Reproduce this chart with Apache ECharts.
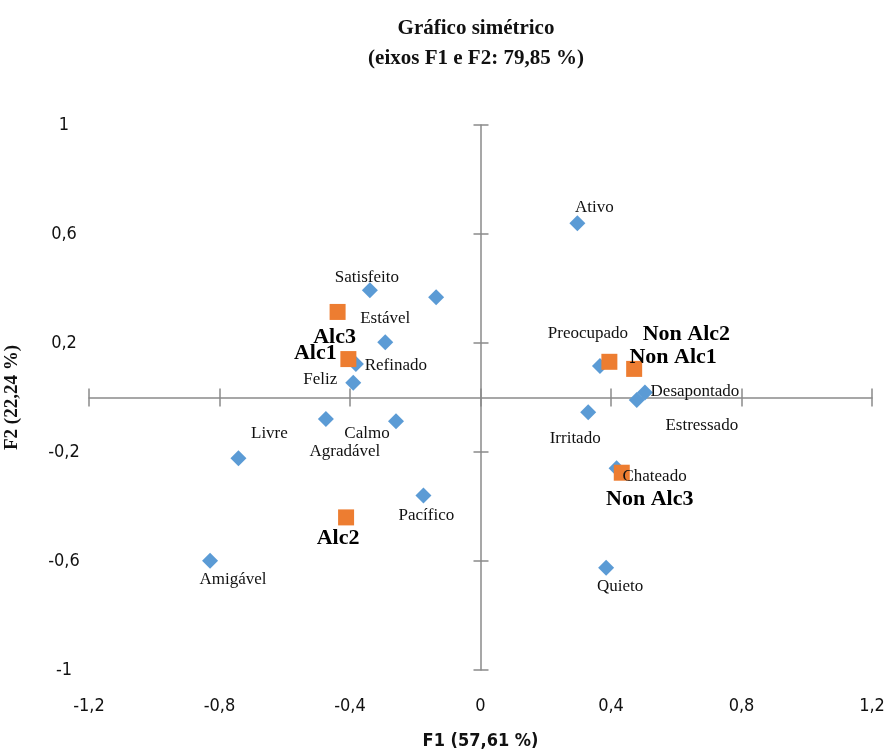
<!DOCTYPE html>
<html>
<head>
<meta charset="utf-8">
<script src="https://cdn.jsdelivr.net/npm/echarts@6/dist/echarts.min.js"></script>
<style>
  html, body { margin: 0; padding: 0; background: #ffffff; }
  #chart { width: 889px; height: 751px; }
</style>
</head>
<body>
<div id="chart"></div>
<script>
// Adjectives (column points), F1 / F2 coordinates
const adjNames = ['Ativo', 'Satisfeito', '', 'Estável', 'Refinado', 'Feliz',
  'Agradável', 'Calmo', 'Livre', 'Pacífico', 'Amigável',
  'Preocupado', 'Desapontado', 'Estressado', 'Irritado', 'Chateado', 'Quieto'];
const adjX = [0.297, -0.339, -0.136, -0.292, -0.382, -0.390,
  -0.474, -0.259, -0.742, -0.175, -0.829,
  0.366, 0.504, 0.479, 0.330, 0.417, 0.385];
const adjY = [0.639, 0.394, 0.368, 0.203, 0.123, 0.054,
  -0.079, -0.087, -0.223, -0.360, -0.599,
  0.116, 0.018, -0.009, -0.054, -0.260, -0.625];

// Beverage groups (row points)
const grpNames = ['Alc1', 'Alc2', 'Alc3', 'Non Alc1', 'Non Alc2', 'Non Alc3'];
const grpX = [-0.405, -0.412, -0.438, 0.471, 0.395, 0.433];
const grpY = [0.141, -0.440, 0.314, 0.105, 0.131, -0.276];

// Axis ranges and tick spacing
const xRange = [-1.2, 1.2];
const xStep = 0.4;
const yRange = [-1, 1];
const yStep = 0.4;

const titleText = 'Gráfico simétrico\n(eixos F1 e F2: 79,85 %)';
const xName = 'F1 (57,61 %)';
const yName = 'F2 (22,24 %)';

// Label placement relative to each marker (pixels)
const labelShift = {
  'Ativo': [17, -16], 'Satisfeito': [-3, -13], 'Estável': [0, -24],
  'Refinado': [40, 2], 'Feliz': [-33, -3], 'Agradável': [19, 33],
  'Calmo': [-29, 12], 'Livre': [31, -25], 'Pacífico': [3, 20],
  'Amigável': [23, 19], 'Preocupado': [-12, -32], 'Desapontado': [50, -1],
  'Estressado': [65, 26], 'Irritado': [-13, 26], 'Chateado': [38, 8],
  'Quieto': [14, 19],
  'Alc1': [-33, -6], 'Alc2': [-8, 21], 'Alc3': [-3, 25],
  'Non Alc1': [39, -12], 'Non Alc2': [77, -27], 'Non Alc3': [28, 27]
};

const fmt = v => String(+(+v).toFixed(1)).replace('.', ',');
const lineColor = '#8a8a8a';
const narrowSans = "'Liberation Sans Narrow', 'DejaVu Sans Condensed', 'Liberation Sans', sans-serif";

function points(names, xs, ys) {
  return names.map((n, i) => ({
    name: n,
    value: [xs[i], ys[i]],
    label: { offset: labelShift[n] || [0, 0], show: n !== '' }
  }));
}

function valueAxis(range, step, extra) {
  return Object.assign({
    type: 'value', min: range[0], max: range[1], interval: step,
    splitLine: { show: false }
  }, extra);
}

const chart = echarts.init(document.getElementById('chart'));
chart.setOption({
  backgroundColor: '#ffffff',
  animation: false,
  title: {
    text: titleText,
    left: 471, top: 9, textAlign: 'center',
    textStyle: {
      fontFamily: 'Liberation Serif', fontWeight: 'bold',
      fontSize: 21, lineHeight: 30, color: '#111'
    }
  },
  grid: {
    left: 89, right: 17, top: 125, bottom: 81,
    containLabel: false, outerBoundsMode: 'none'
  },
  xAxis: [
    // labels and name along the bottom edge
    valueAxis(xRange, xStep, {
      position: 'bottom',
      axisLine: { show: false, onZero: false },
      axisTick: { show: false },
      axisLabel: {
        margin: 27, formatter: fmt, color: '#111', fontSize: 18,
        fontFamily: narrowSans
      },
      name: xName, nameLocation: 'middle', nameGap: 62,
      nameTextStyle: {
        fontFamily: narrowSans, fontWeight: 'bold', fontSize: 18, color: '#111'
      }
    }),
    // horizontal line through y = 0, ticks below
    valueAxis(xRange, xStep, {
      position: 'bottom',
      axisLine: { show: true, onZero: true, onZeroAxisIndex: 0, lineStyle: { color: lineColor, width: 1.5 } },
      axisTick: { show: true, inside: false, length: 9, lineStyle: { color: lineColor, width: 1.5 } },
      axisLabel: { show: false }
    }),
    // ticks above the same line
    valueAxis(xRange, xStep, {
      position: 'bottom',
      axisLine: { show: false, onZero: true, onZeroAxisIndex: 0 },
      axisTick: { show: true, inside: true, length: 9, lineStyle: { color: lineColor, width: 1.5 } },
      axisLabel: { show: false }
    })
  ],
  yAxis: [
    // labels and name along the left edge
    valueAxis(yRange, yStep, {
      position: 'left',
      axisLine: { show: false, onZero: false },
      axisTick: { show: false },
      axisLabel: {
        margin: 25, align: 'center', formatter: fmt, color: '#111', fontSize: 18,
        fontFamily: narrowSans
      },
      name: yName, nameLocation: 'middle', nameGap: 67,
      nameTextStyle: {
        fontFamily: 'Liberation Serif', fontWeight: 'bold', fontSize: 19, color: '#111'
      }
    }),
    // vertical line through x = 0, ticks to the left
    valueAxis(yRange, yStep, {
      position: 'left',
      axisLine: { show: true, onZero: true, onZeroAxisIndex: 0, lineStyle: { color: lineColor, width: 1.5 } },
      axisTick: { show: true, inside: false, length: 7, lineStyle: { color: lineColor, width: 1.5 } },
      axisLabel: { show: false }
    }),
    // ticks to the right of the same line
    valueAxis(yRange, yStep, {
      position: 'left',
      axisLine: { show: false, onZero: true, onZeroAxisIndex: 0 },
      axisTick: { show: true, inside: true, length: 8, lineStyle: { color: lineColor, width: 1.5 } },
      axisLabel: { show: false }
    })
  ],
  series: [
    {
      name: 'Adjetivos', type: 'scatter', xAxisIndex: 0, yAxisIndex: 0,
      symbol: 'diamond', symbolSize: 16,
      itemStyle: { color: '#5b9bd5', opacity: 1 },
      label: {
        show: true, position: 'inside', formatter: p => p.name,
        fontFamily: 'Liberation Serif', fontSize: 17, color: '#111'
      },
      data: points(adjNames, adjX, adjY)
    },
    {
      name: 'Bebidas', type: 'scatter', xAxisIndex: 0, yAxisIndex: 0,
      symbol: 'rect', symbolSize: 16,
      itemStyle: { color: '#ed7d31', opacity: 1 },
      label: {
        show: true, position: 'inside', formatter: p => p.name,
        fontFamily: 'Liberation Serif', fontWeight: 'bold', fontSize: 22, color: '#000'
      },
      data: points(grpNames, grpX, grpY)
    }
  ]
});
</script>
</body>
</html>
